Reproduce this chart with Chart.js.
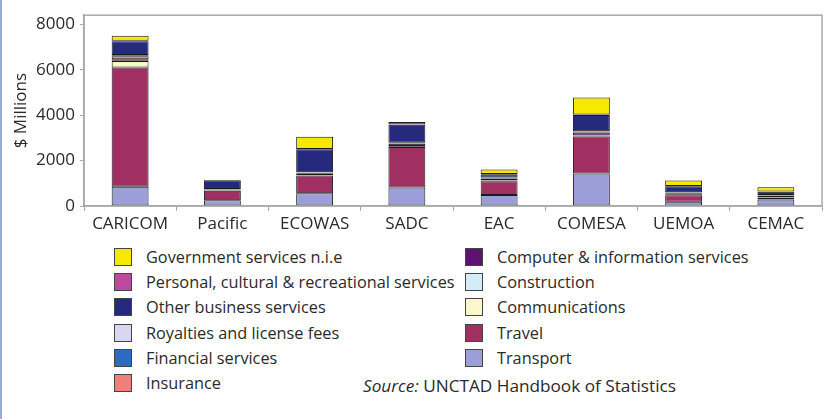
<!DOCTYPE html>
<html>
<head>
<meta charset="utf-8">
<script src="https://cdn.jsdelivr.net/npm/chart.js@4/dist/chart.umd.min.js"></script>
<style>
	body { margin: 0; background: #fff; font-family: 'Open Sans', sans-serif; }
	#wrap { position: relative; width: 840px; height: 419px; border-left: 2px solid #9aa8dc; box-sizing: border-box; }
	#chartBox { position: absolute; left: -2px; top: 0; width: 840px; height: 236px; }
	#legend { position: absolute; left: 112px; top: 244px; display: grid; grid-template-columns: 351px auto; grid-template-rows: repeat(6, 25.3px); grid-auto-flow: column; }
	.item { display: flex; align-items: center; font-size: 16.3px; color: #2a2a2a; white-space: nowrap; }
	.sw { width: 16px; height: 16px; border: 1.5px solid #444; margin-right: 14px; flex: none; }
	#source { position: absolute; left: 361px; top: 374px; font-size: 17.2px; color: #2a2a2a; }
</style>
</head>
<body>
<div id="wrap">
	<div id="chartBox"><canvas id="servicesChart"></canvas></div>
	<div id="legend"></div>
	<div id="source"><i>Source:</i> UNCTAD Handbook of Statistics</div>
</div>
<script>
// Grupy regionalne
const groups = ['CARICOM', 'Pacific', 'ECOWAS', 'SADC', 'EAC', 'COMESA', 'UEMOA', 'CEMAC']

// Serie od dolu stosu do gory ($ Millions)
const transport      = [850, 250, 560, 810, 480, 1430, 190, 290]
const travel         = [5250, 420, 780, 1790, 610, 1630, 280, 60]
const communications = [280, 10, 15, 30, 20, 30, 15, 15]
const construction   = [20, 5, 10, 10, 10, 15, 10, 10]
const computerInfo   = [60, 40, 80, 100, 90, 130, 70, 60]
const insurance      = [130, 10, 15, 25, 20, 25, 20, 20]
const financial      = [30, 10, 15, 15, 20, 20, 15, 15]
const royalties      = [30, 5, 10, 10, 10, 10, 10, 10]
const otherBusiness  = [600, 380, 1010, 790, 140, 720, 260, 150]
const personal       = [20, 10, 10, 20, 10, 20, 10, 10]
const government     = [220, 10, 540, 100, 200, 750, 240, 190]

const yTicks = [0, 2000, 4000, 6000, 8000]

const series = [
	{ label: 'Transport', data: transport, color: '#9c9ed8' },
	{ label: 'Travel', data: travel, color: '#a02f62' },
	{ label: 'Communications', data: communications, color: '#fcf7c8' },
	{ label: 'Construction', data: construction, color: '#d3ecf7' },
	{ label: 'Computer & information services', data: computerInfo, color: '#5c126e' },
	{ label: 'Insurance', data: insurance, color: '#ef7f7a' },
	{ label: 'Financial services', data: financial, color: '#2b6cc2' },
	{ label: 'Royalties and license fees', data: royalties, color: '#d9d7f0' },
	{ label: 'Other business services', data: otherBusiness, color: '#252a7e' },
	{ label: 'Personal, cultural & recreational services', data: personal, color: '#bb4a9e' },
	{ label: 'Government services n.i.e', data: government, color: '#f7e800' },
]

const frame = {
	id: 'frame',
	afterDraw(chart) {
		const { ctx, chartArea: a } = chart
		ctx.save()
		ctx.strokeStyle = '#a8a8a8'
		ctx.lineWidth = 1.5
		ctx.strokeRect(a.left, a.top, a.right - a.left, a.bottom - a.top)
		ctx.restore()
	},
}

const ctx = document.getElementById('servicesChart').getContext('2d')
const servicesChart = new Chart(ctx, {
	type: 'bar',
	data: {
		labels: groups,
		datasets: series.map(s => ({
			label: s.label,
			data: s.data,
			backgroundColor: s.color,
			borderColor: '#1a1a1a',
			borderWidth: 1,
			borderSkipped: false,
			categoryPercentage: 1,
			barPercentage: 0.4,
		})),
	},
	options: {
		responsive: true,
		maintainAspectRatio: false,
		animation: false,
		layout: { padding: { top: 14, right: 18, left: 0, bottom: 0 } },
		plugins: {
			legend: { display: false },
			tooltip: { enabled: false },
		},
		scales: {
			x: {
				stacked: true,
				afterFit: scale => { scale.height = 30 },
				grid: { drawOnChartArea: false, offset: true, tickLength: 5, color: '#a8a8a8' },
				border: { color: '#a8a8a8', width: 1.5 },
				ticks: { color: '#2a2a2a', font: { family: 'Open Sans', size: 17 }, padding: 3 },
			},
			y: {
				stacked: true,
				min: 0,
				max: 8400,
				afterFit: scale => { scale.width = 84 },
				afterBuildTicks: scale => { scale.ticks = yTicks.map(v => ({ value: v })) },
				grid: { drawOnChartArea: false, tickLength: 4, color: '#a8a8a8' },
				border: { color: '#a8a8a8', width: 1.5 },
				ticks: { color: '#2a2a2a', font: { family: 'Open Sans', size: 17 }, padding: 5, callback: v => String(v) },
				title: {
					display: true,
					text: '$ Millions',
					color: '#2a2a2a',
					font: { family: 'Open Sans', size: 17 },
					padding: { top: 11, bottom: 0 },
				},
			},
		},
	},
	plugins: [frame],
})

// Legenda w dwoch kolumnach (odwrotna kolejnosc stosu)
const legend = document.getElementById('legend')
series.slice().reverse().forEach(s => {
	const item = document.createElement('div')
	item.className = 'item'
	item.innerHTML = `<span class="sw" style="background:${s.color}"></span><span>${s.label}</span>`
	legend.appendChild(item)
})
</script>
</body>
</html>
